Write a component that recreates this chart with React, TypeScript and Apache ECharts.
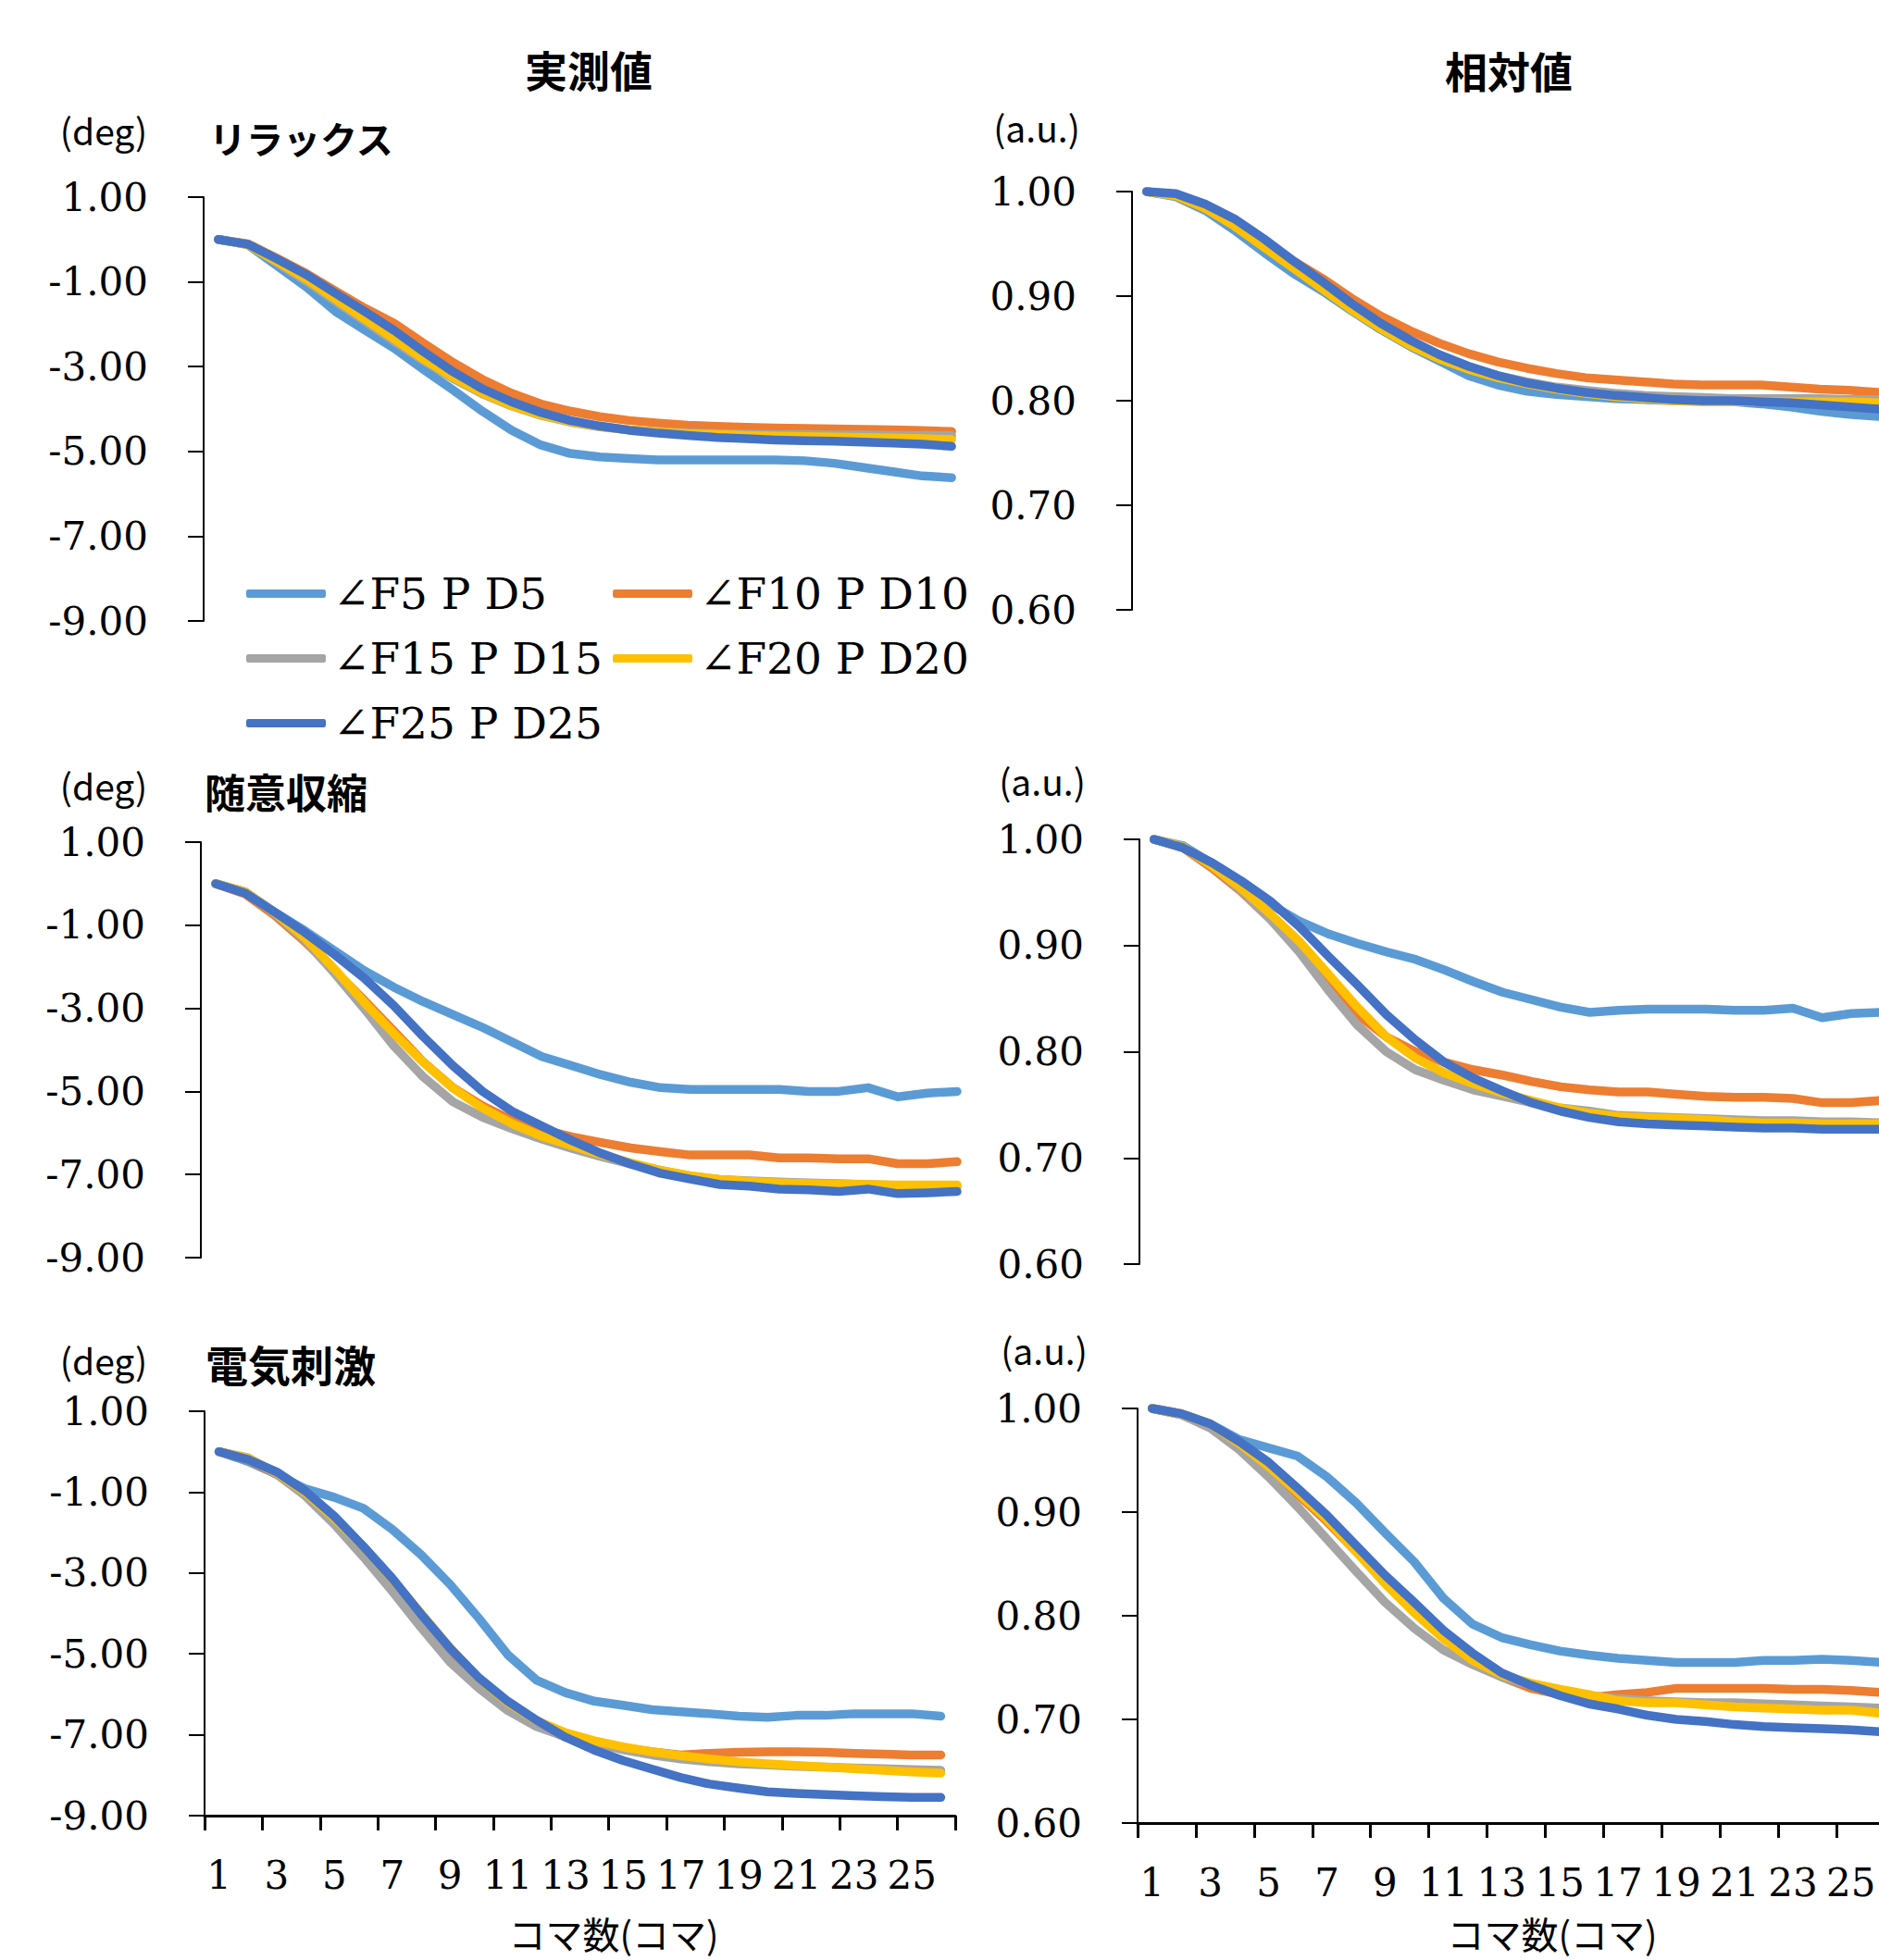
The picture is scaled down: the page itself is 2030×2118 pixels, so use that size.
import React, { useEffect, useRef } from "react";
import * as echarts from "echarts";

const categories = ["1","2","3","4","5","6","7","8","9","10","11","12","13","14","15","16","17","18","19","20","21","22","23","24","25","26"];

const seriesNames = ["∠F5 P D5", "∠F10 P D10", "∠F15 P D15", "∠F20 P D20", "∠F25 P D25"];
const seriesColors = ["#5B9BD5", "#ED7D31", "#A5A5A5", "#FFC000", "#4472C4"];

const degTicks = [-9, -7, -5, -3, -1, 1];
const relTicks = [0.6, 0.7, 0.8, 0.9, 1.0];

const panelTitles = ["リラックス", "随意収縮", "電気刺激"];
const columnTitles = ["実測値", "相対値"];
const degUnit = "(deg)";
const relUnit = "(a.u.)";
const xAxisName = "コマ数(コマ)";

// リラックス 実測値 (deg)
const relaxDegF5 = [0, -0.12, -0.62, -1.12, -1.7, -2.14, -2.57, -3.07, -3.55, -4.05, -4.5, -4.85, -5.05, -5.13, -5.17, -5.2, -5.2, -5.2, -5.2, -5.2, -5.22, -5.28, -5.38, -5.48, -5.58, -5.62];
const relaxDegF10 = [0, -0.1, -0.44, -0.8, -1.22, -1.62, -1.98, -2.45, -2.9, -3.3, -3.63, -3.88, -4.05, -4.18, -4.27, -4.33, -4.38, -4.41, -4.43, -4.45, -4.46, -4.47, -4.48, -4.49, -4.51, -4.53];
const relaxDegF15 = [0, -0.12, -0.55, -0.98, -1.46, -1.93, -2.4, -2.86, -3.28, -3.64, -3.93, -4.15, -4.31, -4.42, -4.49, -4.53, -4.56, -4.58, -4.59, -4.6, -4.6, -4.61, -4.61, -4.62, -4.62, -4.63];
const relaxDegF20 = [0, -0.12, -0.52, -0.93, -1.41, -1.88, -2.35, -2.82, -3.25, -3.62, -3.92, -4.14, -4.3, -4.41, -4.49, -4.54, -4.58, -4.6, -4.62, -4.64, -4.65, -4.66, -4.67, -4.68, -4.7, -4.72];
const relaxDegF25 = [0, -0.11, -0.46, -0.83, -1.27, -1.7, -2.15, -2.65, -3.12, -3.52, -3.83, -4.08, -4.27, -4.4, -4.5, -4.57, -4.62, -4.67, -4.7, -4.73, -4.75, -4.76, -4.78, -4.8, -4.83, -4.88];

// リラックス 相対値
const relaxRelF5 = [1.0, 0.995, 0.982, 0.963, 0.942, 0.922, 0.905, 0.886, 0.868, 0.852, 0.838, 0.824, 0.815, 0.809, 0.806, 0.804, 0.802, 0.801, 0.8, 0.8, 0.799, 0.797, 0.794, 0.79, 0.787, 0.785];
const relaxRelF10 = [1.0, 0.996, 0.984, 0.97, 0.952, 0.934, 0.917, 0.898, 0.881, 0.867, 0.855, 0.845, 0.837, 0.831, 0.826, 0.822, 0.82, 0.818, 0.816, 0.815, 0.815, 0.815, 0.813, 0.811, 0.81, 0.808];
const relaxRelF15 = [1.0, 0.996, 0.985, 0.968, 0.948, 0.928, 0.908, 0.888, 0.87, 0.855, 0.842, 0.832, 0.824, 0.818, 0.813, 0.81, 0.807, 0.805, 0.804, 0.803, 0.802, 0.802, 0.802, 0.802, 0.801, 0.801];
const relaxRelF20 = [1.0, 0.996, 0.984, 0.967, 0.947, 0.927, 0.907, 0.887, 0.869, 0.853, 0.84, 0.83, 0.822, 0.816, 0.811, 0.807, 0.804, 0.802, 0.8, 0.799, 0.799, 0.799, 0.799, 0.799, 0.799, 0.798];
const relaxRelF25 = [1.0, 0.998, 0.988, 0.974, 0.955, 0.934, 0.914, 0.893, 0.874, 0.858, 0.844, 0.833, 0.824, 0.817, 0.812, 0.808, 0.805, 0.803, 0.801, 0.8, 0.8, 0.799, 0.798, 0.796, 0.794, 0.792];

// 随意収縮 実測値 (deg)
const volDegF5 = [0, -0.2, -0.69, -1.13, -1.61, -2.09, -2.49, -2.84, -3.15, -3.46, -3.81, -4.16, -4.38, -4.6, -4.78, -4.91, -4.95, -4.95, -4.95, -4.95, -5.0, -5.0, -4.91, -5.13, -5.04, -5.0];
const volDegF10 = [0, -0.25, -0.77, -1.39, -2.09, -2.8, -3.54, -4.29, -4.91, -5.35, -5.7, -5.92, -6.09, -6.23, -6.36, -6.45, -6.53, -6.53, -6.53, -6.6, -6.6, -6.62, -6.62, -6.74, -6.74, -6.69];
const volDegF15 = [0, -0.2, -0.72, -1.35, -2.15, -3.0, -3.9, -4.65, -5.25, -5.62, -5.9, -6.15, -6.37, -6.57, -6.75, -6.9, -7.04, -7.12, -7.15, -7.18, -7.2, -7.22, -7.24, -7.26, -7.28, -7.3];
const volDegF20 = [0, -0.2, -0.7, -1.3, -2.05, -2.85, -3.6, -4.3, -4.92, -5.4, -5.78, -6.08, -6.3, -6.52, -6.72, -6.9, -7.03, -7.12, -7.17, -7.2, -7.22, -7.23, -7.24, -7.25, -7.25, -7.25];
const volDegF25 = [0, -0.23, -0.69, -1.17, -1.7, -2.27, -2.93, -3.68, -4.38, -5.0, -5.48, -5.83, -6.18, -6.49, -6.75, -6.97, -7.11, -7.24, -7.28, -7.35, -7.37, -7.41, -7.35, -7.46, -7.44, -7.41];

// 随意収縮 相対値
const volRelF5 = [1.0, 0.994, 0.977, 0.959, 0.939, 0.923, 0.911, 0.902, 0.894, 0.887, 0.877, 0.866, 0.856, 0.849, 0.842, 0.837, 0.839, 0.84, 0.84, 0.84, 0.839, 0.839, 0.841, 0.832, 0.836, 0.837];
const volRelF10 = [1.0, 0.992, 0.973, 0.951, 0.925, 0.897, 0.866, 0.835, 0.814, 0.8, 0.79, 0.783, 0.778, 0.772, 0.767, 0.764, 0.762, 0.762, 0.76, 0.758, 0.757, 0.757, 0.756, 0.752, 0.752, 0.754];
const volRelF15 = [1.0, 0.993, 0.975, 0.952, 0.925, 0.894, 0.858, 0.825, 0.8, 0.783, 0.773, 0.764, 0.758, 0.752, 0.747, 0.744, 0.74, 0.739, 0.738, 0.737, 0.736, 0.735, 0.735, 0.734, 0.734, 0.733];
const volRelF20 = [1.0, 0.993, 0.975, 0.954, 0.93, 0.904, 0.873, 0.842, 0.814, 0.794, 0.78, 0.77, 0.761, 0.754, 0.747, 0.742, 0.739, 0.738, 0.737, 0.736, 0.734, 0.733, 0.733, 0.732, 0.732, 0.732];
const volRelF25 = [1.0, 0.992, 0.978, 0.961, 0.942, 0.918, 0.89, 0.863, 0.835, 0.811, 0.79, 0.775, 0.763, 0.752, 0.744, 0.738, 0.734, 0.732, 0.731, 0.73, 0.729, 0.728, 0.728, 0.727, 0.727, 0.727];

// 電気刺激 実測値 (deg)
const elecDegF5 = [0, -0.24, -0.56, -0.92, -1.13, -1.4, -1.92, -2.55, -3.28, -4.12, -5.02, -5.65, -5.96, -6.17, -6.27, -6.38, -6.43, -6.48, -6.54, -6.57, -6.52, -6.52, -6.48, -6.48, -6.48, -6.54];
const elecDegF10 = [0, -0.19, -0.56, -1.08, -1.71, -2.44, -3.28, -4.18, -5.02, -5.65, -6.22, -6.75, -7.06, -7.22, -7.32, -7.42, -7.5, -7.46, -7.43, -7.42, -7.42, -7.43, -7.46, -7.48, -7.5, -7.5];
const elecDegF15 = [0, -0.15, -0.55, -1.1, -1.8, -2.6, -3.45, -4.35, -5.2, -5.85, -6.4, -6.8, -7.05, -7.22, -7.37, -7.5, -7.6, -7.67, -7.72, -7.75, -7.78, -7.8, -7.82, -7.84, -7.86, -7.88];
const elecDegF20 = [0, -0.16, -0.52, -1.02, -1.65, -2.35, -3.15, -4.0, -4.85, -5.6, -6.2, -6.65, -6.95, -7.15, -7.3, -7.42, -7.52, -7.6, -7.67, -7.72, -7.76, -7.8, -7.84, -7.88, -7.92, -7.95];
const elecDegF25 = [0, -0.19, -0.5, -0.98, -1.6, -2.34, -3.13, -4.02, -4.86, -5.59, -6.17, -6.64, -7.06, -7.38, -7.64, -7.85, -8.06, -8.22, -8.32, -8.41, -8.45, -8.48, -8.51, -8.53, -8.55, -8.55];

// 電気刺激 相対値
const elecRelF5 = [1.0, 0.995, 0.985, 0.97, 0.962, 0.954, 0.934, 0.909, 0.88, 0.852, 0.817, 0.792, 0.779, 0.772, 0.766, 0.762, 0.759, 0.757, 0.755, 0.755, 0.755, 0.757, 0.757, 0.758, 0.757, 0.755];
const elecRelF10 = [1.0, 0.994, 0.983, 0.964, 0.942, 0.917, 0.891, 0.862, 0.833, 0.807, 0.782, 0.759, 0.741, 0.73, 0.724, 0.721, 0.724, 0.726, 0.73, 0.73, 0.73, 0.73, 0.729, 0.729, 0.728, 0.726];
const elecRelF15 = [1.0, 0.994, 0.981, 0.96, 0.934, 0.905, 0.874, 0.843, 0.813, 0.788, 0.767, 0.753, 0.741, 0.733, 0.727, 0.723, 0.72, 0.718, 0.717, 0.716, 0.716, 0.715, 0.714, 0.713, 0.712, 0.711];
const elecRelF20 = [1.0, 0.995, 0.985, 0.966, 0.944, 0.919, 0.893, 0.862, 0.831, 0.803, 0.778, 0.757, 0.743, 0.735, 0.729, 0.724, 0.718, 0.716, 0.716, 0.714, 0.712, 0.711, 0.71, 0.709, 0.709, 0.706];
const elecRelF25 = [1.0, 0.995, 0.985, 0.968, 0.948, 0.923, 0.897, 0.868, 0.839, 0.813, 0.786, 0.764, 0.745, 0.733, 0.723, 0.715, 0.71, 0.704, 0.7, 0.698, 0.695, 0.693, 0.692, 0.691, 0.69, 0.688];

const panelData = [
  [relaxDegF5, relaxDegF10, relaxDegF15, relaxDegF20, relaxDegF25],
  [relaxRelF5, relaxRelF10, relaxRelF15, relaxRelF20, relaxRelF25],
  [volDegF5, volDegF10, volDegF15, volDegF20, volDegF25],
  [volRelF5, volRelF10, volRelF15, volRelF20, volRelF25],
  [elecDegF5, elecDegF10, elecDegF15, elecDegF20, elecDegF25],
  [elecRelF5, elecRelF10, elecRelF15, elecRelF20, elecRelF25],
];

const SERIF = "'DejaVu Serif', 'Liberation Serif', serif";
const SANS = "'Noto Sans CJK JP', 'Noto Sans', sans-serif";

const gridLayout = [
  { left: 220, top: 213, width: 824, height: 458 },
  { left: 1223, top: 207, width: 822, height: 452 },
  { left: 217, top: 910, width: 833, height: 449 },
  { left: 1231, top: 907, width: 816, height: 459 },
  { left: 221, top: 1525, width: 811, height: 437 },
  { left: 1229, top: 1522, width: 818, height: 448 },
];

const legendLayout = [
  { left: 261, top: 613 },
  { left: 657, top: 613 },
  { left: 261, top: 683 },
  { left: 657, top: 683 },
  { left: 261, top: 753 },
];

function buildOption() {
  const grid = gridLayout.map((g) => ({ ...g, containLabel: false, outerBoundsMode: "none" }));
  const xAxis = gridLayout.map((_, i) => {
    const bottom = i >= 4;
    return {
      type: "category",
      gridIndex: i,
      data: categories,
      boundaryGap: true,
      axisLine: { show: bottom, onZero: false, lineStyle: { color: "#000", width: 3 } },
      axisTick: { show: bottom, interval: 1, length: 16, lineStyle: { color: "#000", width: 3 } },
      axisLabel: { show: bottom, interval: 1, fontFamily: SERIF, fontSize: 42, color: "#000", margin: 43, hideOverlap: false },
      splitLine: { show: false },
    };
  });
  const yAxis = gridLayout.map((_, i) => {
    const rel = i % 2 === 1;
    const ticks = rel ? relTicks : degTicks;
    return {
      type: "value",
      gridIndex: i,
      min: rel ? 0.6 : -9,
      max: 1,
      axisLine: { show: true, lineStyle: { color: "#000", width: 2 } },
      axisTick: { show: true, length: 17, customValues: ticks, lineStyle: { color: "#000", width: 2 } },
      axisLabel: {
        customValues: ticks,
        formatter: (v: number) => v.toFixed(2),
        fontFamily: SERIF,
        fontSize: 42,
        color: "#000",
        margin: 60,
      },
      splitLine: { show: false },
    };
  });
  const series: any[] = [];
  panelData.forEach((set, p) => {
    set.forEach((vals, s) => {
      series.push({
        type: "line",
        name: seriesNames[s],
        xAxisIndex: p,
        yAxisIndex: p,
        data: vals,
        symbol: "none",
        showSymbol: false,
        itemStyle: { color: seriesColors[s] },
        lineStyle: { color: seriesColors[s], width: 9.5, cap: "round", join: "round" },
        z: 2 + s,
      });
    });
  });
  const legend = seriesNames.map((n, i) => ({
    data: [n],
    left: legendLayout[i].left,
    top: legendLayout[i].top,
    icon: "roundRect",
    itemWidth: 86,
    itemHeight: 9,
    selectedMode: false,
    textStyle: { fontFamily: SERIF, fontSize: 47, color: "#000", padding: [0, 0, 0, 3] },
  }));

  const txt = (text: string, x: number, y: number, size: number, weight: string, align: string) => ({
    type: "text",
    x,
    y,
    style: {
      text,
      fill: "#000",
      fontFamily: SANS,
      fontSize: size,
      fontWeight: weight,
      align,
      verticalAlign: "middle",
    },
  });

  const graphic = [
    txt(columnTitles[0], 636, 74, 46, "bold", "center"),
    txt(columnTitles[1], 1630, 75, 46, "bold", "center"),
    txt(degUnit, 112, 140, 39, "normal", "center"),
    txt(degUnit, 112, 848, 39, "normal", "center"),
    txt(degUnit, 112, 1469, 39, "normal", "center"),
    txt(relUnit, 1120, 137, 39, "normal", "center"),
    txt(relUnit, 1126, 843, 39, "normal", "center"),
    txt(relUnit, 1128, 1458, 39, "normal", "center"),
    txt(panelTitles[0], 226, 149, 40, "bold", "left"),
    txt(panelTitles[1], 221, 855, 44, "bold", "left"),
    txt(panelTitles[2], 222, 1473, 46, "bold", "left"),
    txt(xAxisName, 663, 2089, 40, "normal", "center"),
    txt(xAxisName, 1677, 2089, 40, "normal", "center"),
  ];

  return {
    animation: false,
    backgroundColor: "#fff",
    grid,
    xAxis,
    yAxis,
    legend,
    series,
    graphic,
  };
}

export default function App() {
  const ref = useRef<HTMLDivElement>(null);
  useEffect(() => {
    if (!ref.current) return;
    const chart = echarts.init(ref.current, undefined, { renderer: "svg" });
    chart.setOption(buildOption() as any);
    return () => {
      chart.dispose();
    };
  }, []);
  return (
    <div
      ref={ref}
      style={{ position: "absolute", left: 0, top: 0, width: 2030, height: 2118, background: "#fff" }}
    />
  );
}
